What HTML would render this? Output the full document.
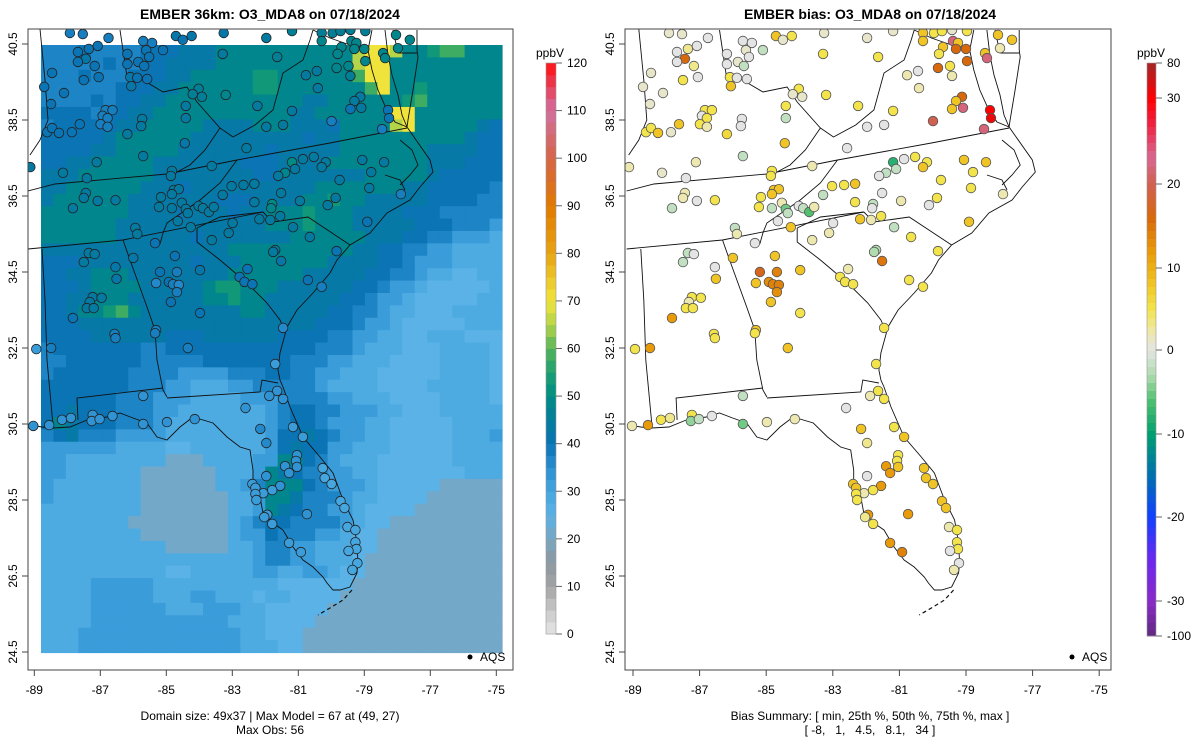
<!DOCTYPE html>
<html><head><meta charset="utf-8"><title>EMBER O3_MDA8</title>
<style>
html,body{margin:0;padding:0;background:#fff;}
svg{display:block;font-family:"Liberation Sans",Arial,sans-serif;}
</style></head>
<body>
<svg id="fig" width="1200" height="750" viewBox="0 0 1200 750">
  <rect x="0" y="0" width="1200" height="750" fill="#fff"/>
  <defs>
    <clipPath id="clipL"><rect x="28" y="29" width="485" height="641"/></clipPath>
    <clipPath id="clipR"><rect x="625" y="29" width="486" height="641"/></clipPath>
  </defs>
  <text x="270" y="19" text-anchor="middle" font-size="14" font-weight="bold">EMBER 36km: O3_MDA8 on 07/18/2024</text>
  <text x="870" y="19" text-anchor="middle" font-size="14" font-weight="bold">EMBER bias: O3_MDA8 on 07/18/2024</text>
  <g id="leftPanel">
    <g id="gridL" clip-path="url(#clipL)"></g>
    <g id="linesL" clip-path="url(#clipL)"></g>
    <g id="ptsL" clip-path="url(#clipL)"></g>
    <rect x="28" y="29" width="485" height="641" fill="none" stroke="#444" stroke-width="1"/>
    <g id="axesL"></g>
    <circle cx="470" cy="657" r="2.5" fill="#000"/>
    <text x="480" y="661" font-size="12">AQS</text>
    <text x="270" y="720" text-anchor="middle" font-size="12">Domain size: 49x37 | Max Model = 67 at (49, 27)</text>
    <text x="270" y="734" text-anchor="middle" font-size="12">Max Obs: 56</text>
  </g>
  <g id="rightPanel">
    <g id="linesR" clip-path="url(#clipR)"></g>
    <g id="ptsR" clip-path="url(#clipR)"></g>
    <rect x="625" y="29" width="486" height="641" fill="none" stroke="#444" stroke-width="1"/>
    <g id="axesR"></g>
    <circle cx="1072" cy="657" r="2.5" fill="#000"/>
    <text x="1082" y="661" font-size="12">AQS</text>
    <text x="870" y="720" text-anchor="middle" font-size="12">Bias Summary: [ min, 25th %, 50th %, 75th %, max ]</text>
    <text x="870" y="734" text-anchor="middle" font-size="12" xml:space="preserve">[ -8,   1,   4.5,   8.1,   34 ]</text>
  </g>
  <g id="cbL"></g>
  <g id="cbR"></g>
</svg>
<script>
// ---------- data ----------
// model grid (49 rows x 37 cols), each char = value bucket
const gridRows = [
"eeefeeeefffggghhhhhhhhhhhkllkhhijjhhh",
"eeeeefeeffgggghhhhhhhhhhhkllhhhhhhhhh",
"eeefeeefffgghhhhhiihhhhhhjllhhhhhhhhh",
"eeeeeefffgghhhhhhiihhhhhhhjlhhihhhhhh",
"eeeefeffgghhhhhhhhhhhgghhhhhhijhhhhhh",
"ffffeffgghhhhhhhhhhhgghhhhhhllhhhhhhh",
"efffffgghhhhhgggghhhgggfhhhhklhhhhhgf",
"fffffghhhhhhgggggggggfgghhhhhhhhhhgff",
"ffffgghhhhhgggggggfggggghhhhhhhggggff",
"ffgghhhhhgggggggfffgggghhhhhhhhgggfff",
"ggghhhhhhggggggggffggggggghhhhhgfffff",
"gghhhhhhgggfgggggggggghhhhhhhggfffffe",
"ghhhhhhgggggggfffgggghhihhgggggffffee",
"hhhhhhhggggfgggfgghhhihhhggggfffeeeee",
"hhhhhhgggggggggggghhhihhhgggggfffeeed",
"hhhhhhggggggfggggggghhhhhhgggffeedddc",
"ggggggggggggggghhhhhhhhhhggffeeddcccc",
"fffgggggggggfggghhhhhhhggggffedddcccc",
"ffgghhhgggggggghhhhhhgggggffeedccbbcc",
"fffghhhhggggghiihhhggggggffeddcbbbbbc",
"ffgghhhgggggghhihhggggggffeddcbbbbbcc",
"ffghhijhgggggggghhgggggffeedccbbbcccc",
"fffgggggggggggggggggggfffeddcbbbbbccc",
"ffffggggggfffggggggffffeeddccbbcccbbb",
"efffffffeeffffffffffffeeedcccbbbccccb",
"eeffffffeeeeefffffffeeeddcccbbbbccccb",
"effffffeeeeddddeeeffeeddcccbbbbbccccb",
"fffffffeeeddcccddeeeeedccccbbbbcccccb",
"ffffffeeedddccccdddeeeeddcccbbbbccccb",
"ffgfffeeeddcccccccdeffeedddccbbbccccc",
"fhgfffeeedccccccccdeffedddccbbbbbcccc",
"efgeeeddddccccccccdffgfeddccbbbbbcccd",
"ddddddccccbbccccccdfgffddcccbbbbbcccc",
"ddccccccccaaaccccddhhfedcccbbbbbbcccc",
"ddccccccaaaaaacccdhgfeeddccbbbbbbbccc",
"dcccccccaaaaaaccdehhhfedddcbbbbbaaaaa",
"dcccccccaaaaaaaccdhhgeeedccbbbbaaaaaa",
"ccccccccaaaaaaaccdhgfeeddcbbbbaaaaaaa",
"cccccccaaaaaaaacdeffeeeedcbbaaaaaaaaa",
"ccccccccaaaaaaacddfeeeddcbbaaaaaaaaaa",
"ccccccccccaaaaaccdeeddcccbbaaaaaaaaaa",
"cccccccccccccccccdeeddcccbaaaaaaaaaaa",
"ccccccccccbbcccccddccddcbbaaaaaaaaaaa",
"ccccdddddccccccccccbbbbbbaaaaaaaaaaaa",
"ccccdddddcccddcccbccbbbbaaaaaaaaaaaaa",
"ccccddddddcccdddccbbbbbaaaaaaaaaaaaaa",
"ccccdddddddddddcccbbbbaaaaaaaaaaaaaaa",
"cccdddddddddddddccbbbaaaaaaaaaaaaaaaa",
"cccdddddddddddddcccbbaaaaaaaaaaaaaaaa"
];
const bucketKeys = ["a","b","c","d","e","f","g","h","i","j","k","l"];
const bucketVals = [21,25,28,32,37,40,43,48,53,58,65,70];

// stations: longitude, latitude, observed ppbV, bias ppbV
const stLon = [-87.92,-87.53,-86.75,-87.68,-87.35,-87.44,-87.08,-87.17,-87.68,-88.46,-87.50,-87.05,-88.70,-88.10,-88.49,-85.70,-85.43,-85.10,-85.61,-85.52,-86.18,-85.85,-85.67,-86.09,-85.88,-85.58,-86.06,-86.18,-84.71,-84.50,-84.23,-83.26,-83.29,-81.97,-81.19,-81.64,-84.02,-84.20,-83.92,-83.20,-84.41,-84.41,-82.24,-81.19,-81.97,-81.46,-82.57,-84.44,-85.70,-85.73,-85.76,-86.18,-86.84,-86.63,-86.93,-86.78,-86.99,-86.78,-87.62,-87.86,-88.61,-88.46,-88.25,-89.12,-87.11,-88.13,-87.41,-84.83,-84.86,-83.62,-84.77,-84.62,-84.83,-85.16,-85.22,-84.83,-84.53,-84.41,-84.35,-84.02,-83.89,-83.71,-83.56,-84.65,-84.26,-87.44,-87.50,-87.08,-86.54,-87.83,-85.94,-85.88,-85.34,-83.29,-83.02,-82.66,-82.33,-82.33,-81.52,-81.79,-81.82,-81.55,-82.18,-81.85,-82.99,-83.11,-83.62,-81.19,-80.86,-81.40,-81.10,-81.61,-80.53,-80.17,-80.29,-79.75,-79.06,-78.40,-78.79,-78.85,-79.87,-80.11,-80.95,-81.16,-80.65,-78.91,-77.89,-79.84,-81.70,-81.76,-81.52,-82.54,-82.78,-82.63,-82.39,-80.71,-80.29,-81.46,-86.00,-84.74,-85.19,-84.68,-83.98,-85.31,-84.92,-84.80,-84.62,-84.68,-84.86,-83.98,-87.35,-87.17,-87.50,-86.54,-86.51,-87.23,-86.96,-87.32,-87.41,-87.20,-87.83,-86.57,-86.54,-85.31,-85.34,-88.94,-88.49,-84.35,-80.29,-79.96,-79.72,-79.42,-78.97,-80.29,-79.69,-79.39,-79.24,-79.30,-79.00,-79.81,-79.48,-79.84,-78.97,-78.43,-78.37,-78.04,-77.62,-77.98,-80.77,-80.44,-79.42,-80.41,-79.12,-79.30,-79.09,-79.42,-78.28,-78.25,-79.99,-78.46,-81.70,-81.64,-81.88,-81.46,-85.70,-82.60,-89.03,-88.55,-88.16,-87.89,-87.23,-87.26,-87.02,-86.63,-85.70,-84.98,-84.14,-81.16,-80.86,-82.15,-81.97,-81.04,-81.07,-81.40,-81.04,-81.28,-81.97,-81.55,-81.79,-82.06,-82.39,-82.30,-82.30,-82.27,-80.26,-80.20,-79.99,-79.72,-79.60,-81.94,-82.03,-81.79,-80.74,-79.51,-79.27,-79.27,-79.24,-79.48,-79.21,-79.36,-81.28,-80.92];
const stLat = [40.79,40.76,40.66,40.29,40.37,40.11,40.45,39.92,40.03,39.74,39.55,39.63,39.37,39.21,38.92,40.58,40.53,40.34,40.34,40.16,40.24,40.03,39.92,39.63,39.61,39.58,39.39,39.97,40.71,40.61,40.71,40.79,40.24,40.66,40.84,40.16,39.32,39.18,39.11,39.16,38.87,38.55,38.87,38.74,38.32,38.37,37.76,37.89,37.55,38.53,38.34,38.13,38.76,38.76,38.61,38.55,38.39,38.32,38.39,38.18,38.18,38.29,38.16,37.26,37.39,37.11,36.97,37.16,37.03,37.29,36.66,36.68,36.55,36.47,36.21,36.18,36.32,36.16,36.05,36.24,36.18,36.08,36.21,35.84,35.68,36.58,36.45,36.37,36.39,36.18,35.66,35.50,35.26,36.53,36.76,36.79,36.82,36.34,36.58,36.29,36.18,35.97,35.89,35.87,35.79,35.53,35.34,37.39,37.47,37.11,37.21,37.03,37.53,37.39,37.26,36.92,37.45,37.39,37.13,36.71,36.45,36.26,36.37,35.68,35.42,35.82,36.55,35.05,35.08,35.03,34.79,34.58,34.37,34.24,34.18,34.29,34.11,33.03,34.87,34.92,34.50,34.50,34.55,34.21,34.24,34.18,34.16,33.97,33.71,33.42,35.00,34.97,34.76,34.63,34.32,33.84,33.82,33.71,33.55,33.55,33.29,32.87,32.76,32.97,32.89,32.47,32.50,32.50,40.79,40.79,40.84,40.87,40.84,40.58,40.42,40.58,40.53,40.37,40.37,40.24,39.92,39.87,40.05,40.26,40.13,40.74,40.61,40.39,39.68,39.79,39.66,39.34,39.11,39.00,38.82,38.79,38.76,38.55,38.47,38.26,32.08,31.37,31.24,31.16,31.24,30.92,30.45,30.47,30.61,30.66,30.74,30.58,30.63,30.71,30.50,30.55,30.63,30.42,30.16,30.37,30.00,29.68,29.53,29.39,29.37,29.21,29.13,28.87,28.76,28.68,28.92,28.82,28.66,28.50,29.34,29.08,28.92,28.47,28.29,28.11,28.05,27.87,28.13,27.79,27.71,27.39,27.21,27.16,26.84,26.66,27.37,27.13];
const stObs = [38,38,38,40,40,42,40,40,40,40,40,40,40,40,40,38,38,40,40,40,40,40,40,42,40,40,42,40,42,40,42,42,44,44,46,46,46,46,46,48,44,44,44,44,44,44,44,42,44,44,44,44,38,38,38,38,38,38,40,40,40,40,40,44,44,44,44,44,44,44,44,44,44,44,44,44,44,44,44,44,44,44,44,44,44,44,44,44,44,44,44,44,40,44,44,44,44,44,44,50,48,44,44,44,44,44,44,50,44,48,44,44,44,44,44,44,44,44,44,44,44,44,44,44,44,40,38,40,44,44,42,40,40,40,40,40,38,36,42,40,40,38,42,36,40,38,36,38,40,40,44,44,44,42,42,44,44,44,44,44,40,38,38,38,38,32,38,38,46,46,46,46,46,48,48,48,48,48,48,48,48,48,48,48,48,48,48,48,44,44,46,44,44,44,44,40,40,40,38,38,32,34,34,34,34,34,34,34,34,34,34,34,34,34,34,34,34,32,32,36,36,34,34,34,34,34,34,34,32,32,32,32,32,32,30,30,30,30,30,32,32,32,34,30,30,30,30,30,30,30,32,32];
const stBias = [1,1,0,0,3,16,0,3,0,1,5,0,1,1,1,0,0,-2,1,0,0,1,-2,5,0,0,8,0,8,1,5,1,5,1,1,5,5,1,1,5,5,-2,5,5,0,0,0,8,-2,0,0,6,5,5,0,5,5,2,8,1,5,5,8,2,2,1,0,5,5,2,8,8,8,5,5,-2,2,-5,-2,0,-2,-6,2,0,8,2,2,0,5,-2,-2,2,0,-2,5,5,8,5,0,-2,0,5,8,2,0,2,2,-8,0,-2,-2,0,5,5,8,5,8,8,5,5,5,0,2,-2,5,8,2,5,-3,-3,15,2,5,5,5,5,5,5,8,8,17,14,8,8,13,14,14,13,8,5,-2,0,-2,0,8,5,5,2,5,5,12,5,5,8,5,5,12,8,8,5,5,1,5,8,8,22,8,16,16,5,5,16,16,8,22,8,8,2,2,0,2,2,16,8,22,8,30,40,20,22,5,5,2,5,-2,0,2,12,5,3,5,-4,-2,0,-5,2,2,5,8,8,3,5,5,12,8,12,0,12,5,2,8,8,5,5,8,8,8,8,8,12,3,5,12,2,5,5,5,0,0,2,12,14];

// colour scale stops (value -> colour)
const obsStopVals = [0,5,10,15,20,25,30,35,40,45,50,55,60,65,70,75,80,90,100,110,120];
const obsStopCols = ["#e6e6e6","#c8c8c8","#a4a4a4","#8c98a0","#7aa6c0","#5ab2e6","#46a6e0","#2a8ed0","#0a74b4","#037c9c","#008c84","#1ca070","#55b45a","#b4d44a","#f0e43c","#ecc428","#e8a414","#e07a00","#d46448","#d070a0","#ff1010"];
const biasStopVals = [-100,-30,-25,-20,-15,-10,-6,-3,0,2,5,8,12,16,20,23,27,30,80];
const biasStopCols = ["#602a80","#8a2ac8","#6a28f0","#1040ff","#0070b0","#00a070","#50c070","#b0dcb0","#e4e4e4","#ece8b0","#f2e44a","#f0c424","#e89a08","#d8680c","#d06050","#d86890","#f02040","#ff0000","#a02828"];
const obsTicks = [0,10,20,30,40,50,60,70,80,90,100,110,120];
const biasTicks = [80,30,20,10,0,-10,-20,-30,-100];
const lonTicks = [-89,-87,-85,-83,-81,-79,-77,-75];
const latTicks = [40.5,38.5,36.5,34.5,32.5,30.5,28.5,26.5,24.5];

// ---------- helpers ----------
const NS = "http://www.w3.org/2000/svg";
function mk(tag, attrs, parent){ const e=document.createElementNS(NS,tag); for(const k in attrs) e.setAttribute(k,attrs[k]); if(parent) parent.appendChild(e); return e; }
function hex2rgb(h){ return [parseInt(h.substr(1,2),16),parseInt(h.substr(3,2),16),parseInt(h.substr(5,2),16)]; }
function interpColor(v, vals, cols){
  if(v<=vals[0]) return cols[0];
  if(v>=vals[vals.length-1]) return cols[cols.length-1];
  for(let i=0;i<vals.length-1;i++){
    if(v>=vals[i] && v<=vals[i+1]){
      const t=(v-vals[i])/(vals[i+1]-vals[i]);
      const a=hex2rgb(cols[i]), b=hex2rgb(cols[i+1]);
      return "rgb("+a.map((c,j)=>Math.round(c+(b[j]-c)*t)).join(",")+")";
    }
  }
  return cols[0];
}
const obsColor = v => interpColor(v, obsStopVals, obsStopCols);
const biasColor = v => interpColor(v, biasStopVals, biasStopCols);

// axis functions
const xL = lon => 34.3 + (lon + 89) * 33.0;
const xR = lon => 633 + (lon + 89) * 33.3;
const yM = lat => 44 + (40.5 - lat) * 38.0;
const lx2rx = x => 633 + (x - 34.3) * 33.3 / 33.0;

// ---------- grid ----------
const gL = document.getElementById("gridL");
const nCols = 37, nRows = gridRows.length;
const gx0 = 41, gx1 = 502, gy0 = 45, gy1 = 652.5;
const cw = (gx1 - gx0) / nCols, ch = (gy1 - gy0) / nRows;
gridRows.forEach((row, r) => {
  for (let c = 0; c < nCols; c++) {
    const k = row[Math.min(c, row.length - 1)];
    const v = bucketVals[bucketKeys.indexOf(k)];
    const cell = mk("rect", {x:(gx0+c*cw).toFixed(2), y:(gy0+r*ch).toFixed(2), width:(cw+0.6).toFixed(2), height:(ch+0.6).toFixed(2), fill:obsColor(v)}, gL);
    
    
  }
});

// ---------- map outlines (left panel coordinates) ----------
const outlines = [
 [[417,30],[417,50],[418,57],[413,90],[408,120],[407,127],[430,160],[433,172],[420,187],[410,200],[387,213],[370,233],[350,245],[337,260],[330,273],[313,293],[297,310],[287,327],[280,353],[278,370],[280,380],[283,387],[290,407],[303,437],[320,457],[333,473],[343,500],[353,520],[357,543],[358,563],[357,573],[350,587],[340,590],[333,590],[327,583],[323,577],[313,567],[303,560],[293,547],[283,530],[273,523],[263,513],[260,497],[253,487],[253,470],[250,450],[240,447],[227,437],[213,423],[193,417],[180,427],[167,440],[157,437],[147,423],[133,418],[120,413],[107,417],[87,420],[70,427],[53,428],[42,427],[30,425]],
 [[372,30],[368,50],[372,70],[378,90],[386,108],[395,122],[407,127]],
 [[385,30],[388,55],[392,75],[398,95],[402,115],[407,127]],
 [[393,30],[398,53],[417,53]],
 [[313,30],[330,38],[350,45],[368,50]],
 [[28,191],[55,184],[167,174],[237,160],[330,143],[407,128]],
 [[28,249],[123,240],[263,212]],
 [[197,228],[220,217],[263,212],[273,222],[308,217],[350,245]],
 [[197,228],[197,242],[220,260],[247,283],[267,303],[280,320],[283,327]],
 [[123,240],[130,260],[147,307],[155,330],[157,360],[163,390],[167,397]],
 [[167,398],[260,392],[262,380],[278,383]],
 [[78,420],[77,398],[163,388]],
 [[42,249],[45,300],[47,360],[53,425]],
 [[120,30],[127,77],[143,80],[163,92],[187,87],[197,102],[220,128]],
 [[220,128],[205,150],[190,165],[177,172]],
 [[220,128],[233,137],[255,125],[273,110],[283,73],[303,60],[310,40],[313,30]],
 [[237,160],[220,183],[200,200],[167,223],[163,233],[160,244]],
 [[40,29],[45,80],[48,120],[40,140],[30,155]],
 [[400,140],[412,150],[418,165],[410,175],[400,185]],
 [[385,175],[400,180],[405,190]]
];
function drawOutlines(gid, tx){
  const g = document.getElementById(gid);
  outlines.forEach(pl => {
    const p = mk("polyline", {points: pl.map(q => tx(q[0]).toFixed(1)+","+q[1]).join(" "), fill:"none", stroke:"#111", "stroke-width":"0.9"}, g);
    
    
  });
  const k = mk("polyline", {points: [[352,590],[343,600],[330,608],[318,615]].map(q => tx(q[0]).toFixed(1)+","+q[1]).join(" "), fill:"none", stroke:"#111", "stroke-width":"1.2", "stroke-dasharray":"4,3"}, g);
  
  
}
drawOutlines("linesL", x => x);
drawOutlines("linesR", lx2rx);

// ---------- stations ----------
const pL = document.getElementById("ptsL"), pR = document.getElementById("ptsR");
for (let i = 0; i < stLon.length; i++) {
  const a = mk("circle", {cx:xL(stLon[i]).toFixed(1), cy:yM(stLat[i]).toFixed(1), r:"4.8", fill:obsColor(stObs[i]), stroke:"#222", "stroke-width":"0.8"}, pL);
  
  
  const b = mk("circle", {cx:xR(stLon[i]).toFixed(1), cy:yM(stLat[i]).toFixed(1), r:"4.8", fill:biasColor(stBias[i]), stroke:"#555", "stroke-width":"0.8"}, pR);
  
  
}

// ---------- axes ----------
function drawAxes(gid, xf, frameL, frameB){
  const g = document.getElementById(gid);
  lonTicks.forEach(lon => {
    const x = xf(lon);
    const t = mk("line", {x1:x, x2:x, y1:frameB, y2:frameB+6, stroke:"#444"}, g);
    
    
    const l = mk("text", {x:x, y:frameB+24, "text-anchor":"middle", "font-size":"12"}, g);
    l.textContent = String(lon);
    
    
  });
  latTicks.forEach(lat => {
    const y = yM(lat);
    const t = mk("line", {x1:frameL-6, x2:frameL, y1:y, y2:y, stroke:"#444"}, g);
    
    
    const l = mk("text", {x:0, y:0, "text-anchor":"middle", "font-size":"12", transform:"translate("+(frameL-11)+","+y+") rotate(-90)"}, g);
    l.textContent = lat.toFixed(1);
    
    
  });
}
drawAxes("axesL", xL, 28, 670);
drawAxes("axesR", xR, 625, 670);

// ---------- colorbars ----------
(function(){
  const g = document.getElementById("cbL");
  const top = 63, bot = 634, x = 546, w = 10, n = 48;
  const vy = v => bot - v * (bot - top) / 120;
  for (let i = 0; i < n; i++) {
    const v0 = i * 120 / n, v1 = (i + 1) * 120 / n;
    const r = mk("rect", {x:x, y:vy(v1), width:w, height:(vy(v0)-vy(v1)+0.4).toFixed(2), fill:obsColor((v0+v1)/2)}, g);
    
    
  }
  mk("rect", {x:x, y:top, width:w, height:bot-top, fill:"none", stroke:"#999", "stroke-width":"0.6"}, g);
  obsTicks.forEach(v => {
    const y = vy(v);
    const t = mk("line", {x1:x+w, x2:x+w+6, y1:y, y2:y, stroke:"#666"}, g);
    
    
    const l = mk("text", {x:x+w+11, y:y+4, "font-size":"12"}, g);
    l.textContent = String(v);
    
    
  });
  const u = mk("text", {x:x+4, y:57, "text-anchor":"middle", "font-size":"12"}, g);
  u.textContent = "ppbV";
  
  
})();
(function(){
  const g = document.getElementById("cbR");
  const x = 1147, w = 9;
  const tickY = [63,98,184,268,350,434,517,601,636];
  const valAt = y => { for (let i=0;i<tickY.length-1;i++){ if(y>=tickY[i]&&y<=tickY[i+1]){ const t=(y-tickY[i])/(tickY[i+1]-tickY[i]); return biasTicks[i]+(biasTicks[i+1]-biasTicks[i])*t; } } return biasTicks[biasTicks.length-1]; };
  for (let y = 63; y < 636; y += 8) {
    const h = Math.min(8, 636 - y);
    const r = mk("rect", {x:x, y:y, width:w, height:h+0.4, fill:biasColor(valAt(y + h/2))}, g);
    
    
  }
  mk("rect", {x:x, y:63, width:w, height:573, fill:"none", stroke:"#999", "stroke-width":"0.6"}, g);
  biasTicks.forEach((v, i) => {
    const y = tickY[i];
    const t = mk("line", {x1:x+w, x2:x+w+6, y1:y, y2:y, stroke:"#666"}, g);
    
    
    const l = mk("text", {x:x+w+11, y:y+4, "font-size":"12"}, g);
    l.textContent = String(v);
    
    
  });
  const u = mk("text", {x:x+4, y:57, "text-anchor":"middle", "font-size":"12"}, g);
  u.textContent = "ppbV";
  
  
})();
</script>
</body></html>
